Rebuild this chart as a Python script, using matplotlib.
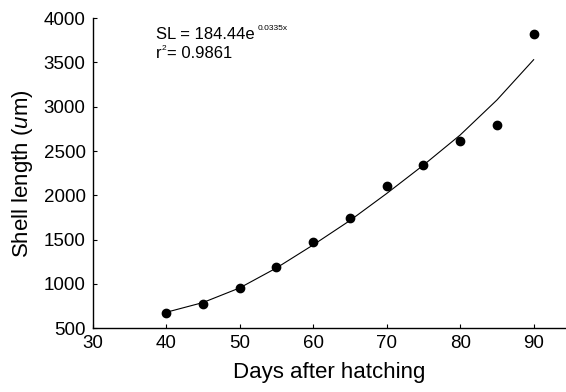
import matplotlib
matplotlib.use("Agg")
import matplotlib.pyplot as plt

plt.rcParams['font.family'] = ['Liberation Sans', 'DejaVu Sans']
plt.rcParams['mathtext.fontset'] = 'custom'
plt.rcParams['mathtext.rm'] = 'Liberation Sans'
plt.rcParams['mathtext.it'] = 'Liberation Sans:italic'
plt.rcParams['mathtext.default'] = 'regular'

days = [40, 45, 50, 55, 60, 65, 70, 75, 80, 85, 90]
shell_length = [678, 778, 958, 1192, 1470, 1748, 2105, 2338, 2615, 2795, 3822]
trend_length = [680, 790, 955, 1180, 1440, 1715, 2020, 2340, 2680, 3075, 3530]
x_ticks = [30, 40, 50, 60, 70, 80, 90]
y_ticks = [500, 1000, 1500, 2000, 2500, 3000, 3500, 4000]

fig = plt.figure(figsize=(5.66, 3.92), dpi=100)
ax = fig.add_axes([0.1635, 0.1625, 0.8365, 0.7915])

ax.plot(days, trend_length, color='black', lw=0.8)
ax.plot(days, shell_length, 'o', color='black', markersize=6)

ax.set_xlim(30, 94.4)
ax.set_ylim(500, 4000)
ax.set_xticks(x_ticks)
ax.set_yticks(y_ticks)
for s in ['top', 'right']:
    ax.spines[s].set_visible(False)
for s in ['left', 'bottom']:
    ax.spines[s].set_linewidth(1.0)
ax.tick_params(direction='in', length=3, width=0.8, labelsize=13.5, pad=5)

ax.set_xlabel('Days after hatching', fontsize=16, labelpad=7)
ax.set_ylabel('Shell length ($\\mathit{u}$m)', fontsize=16, labelpad=6)

ax.text(38.6, 3900, 'SL = 184.44e', fontsize=12, va='top', ha='left')
ax.text(52.4, 3920, '0.0335x', fontsize=6, va='top', ha='left')
ax.text(38.6, 3680, 'r', fontsize=12, va='top', ha='left')
ax.text(39.45, 3700, '2', fontsize=6, va='top', ha='left')
ax.text(40.1, 3680, '= 0.9861', fontsize=12, va='top', ha='left')

fig.savefig('out.png', dpi=100)
